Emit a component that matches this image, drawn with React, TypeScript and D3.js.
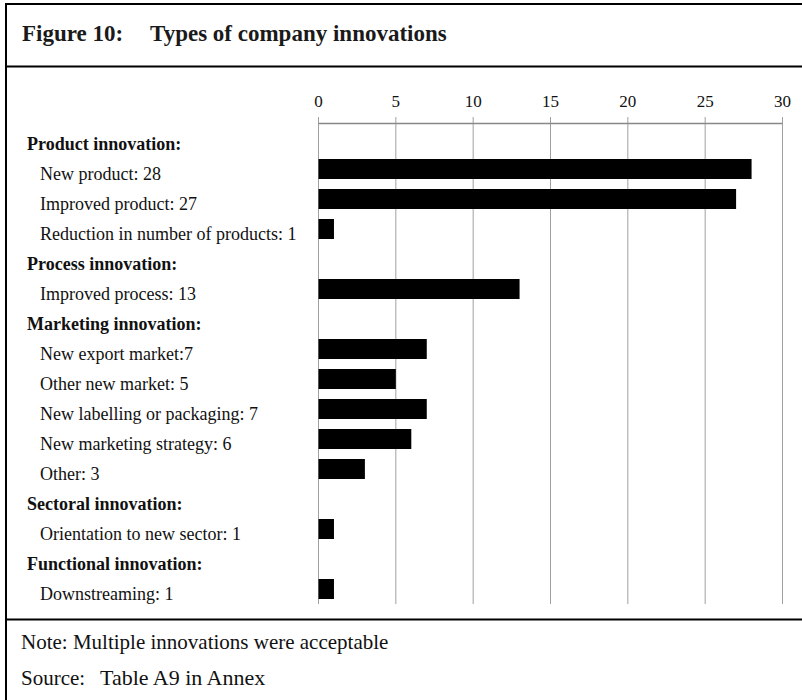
import React, { useEffect, useRef } from 'react';
import * as d3 from 'd3';

// group headings and their items (group index per item)
const groupLabels = [
  'Product innovation:',
  'Process innovation:',
  'Marketing innovation:',
  'Sectoral innovation:',
  'Functional innovation:',
];

const itemLabels = [
  'New product: 28',
  'Improved product: 27',
  'Reduction in number of products: 1',
  'Improved process: 13',
  'New export market:7',
  'Other new market: 5',
  'New labelling or packaging: 7',
  'New marketing strategy: 6',
  'Other: 3',
  'Orientation to new sector: 1',
  'Downstreaming: 1',
];
const itemValues = [28, 27, 1, 13, 7, 5, 7, 6, 3, 1, 1];
const itemGroup = [0, 0, 0, 1, 2, 2, 2, 2, 2, 3, 4];

const tickValues = [0, 5, 10, 15, 20, 25, 30];

const W = 802;
const H = 700;
const FONT = '"Liberation Serif", "Times New Roman", serif';

const App = () => {
  const svgRef = useRef<SVGSVGElement>(null);

  useEffect(() => {
    const svg = d3.select(svgRef.current);
    svg.selectAll('*').remove();

    // build rows: heading row, then its items
    const rows: { label: string; value: number | null; header: boolean }[] = [];
    groupLabels.forEach((g, gi) => {
      rows.push({ label: g, value: null, header: true });
      itemLabels.forEach((l, i) => {
        if (itemGroup[i] === gi) rows.push({ label: l, value: itemValues[i], header: false });
      });
    });

    const x = d3.scaleLinear().domain([0, 30]).range([318.5, 782.5]);
    const y = d3.scaleBand<number>()
      .domain(rows.map((_, i) => i))
      .range([124, 604])
      .paddingInner(1 / 3)
      .paddingOuter(1 / 6);

    // frame
    svg.append('rect').attr('width', W).attr('height', H).attr('fill', '#fff');
    const frame = svg.append('g').attr('stroke', '#000').attr('stroke-width', 2);
    frame.append('line').attr('x1', 6).attr('x2', W).attr('y1', 4).attr('y2', 4);
    frame.append('line').attr('x1', 6).attr('x2', 6).attr('y1', 3).attr('y2', H);
    frame.append('line').attr('x1', 6).attr('x2', W).attr('y1', 66.5).attr('y2', 66.5);
    frame.append('line').attr('x1', 6).attr('x2', W).attr('y1', 619.5).attr('y2', 619.5);

    // title
    const title = svg.append('g')
      .style('font-family', FONT)
      .style('font-weight', 'bold')
      .style('font-size', '23px')
      .attr('fill', '#1a1a1a');
    title.append('text').attr('x', 22).attr('y', 41).text('Figure 10:');
    title.append('text').attr('x', 150).attr('y', 41).text('Types of company innovations');

    // gridlines
    svg.append('g')
      .selectAll('line')
      .data(tickValues)
      .enter()
      .append('line')
      .attr('x1', d => x(d))
      .attr('x2', d => x(d))
      .attr('y1', 117)
      .attr('y2', 604)
      .attr('stroke', '#a0a0a0')
      .attr('stroke-width', 1);

    // axis line
    svg.append('line')
      .attr('x1', x(0))
      .attr('x2', x(30))
      .attr('y1', 123.5)
      .attr('y2', 123.5)
      .attr('stroke', '#888')
      .attr('stroke-width', 1.5);

    // tick labels
    svg.append('g')
      .selectAll('text')
      .data(tickValues)
      .enter()
      .append('text')
      .attr('x', d => x(d))
      .attr('y', 107)
      .attr('text-anchor', 'middle')
      .style('font-family', FONT)
      .style('font-size', '17px')
      .attr('fill', '#111')
      .text(d => d);

    // bars
    svg.append('g')
      .selectAll('rect')
      .data(rows.map((r, i) => ({ ...r, i })).filter(r => !r.header))
      .enter()
      .append('rect')
      .attr('x', x(0))
      .attr('y', d => y(d.i)!)
      .attr('width', d => x(d.value as number) - x(0))
      .attr('height', y.bandwidth())
      .attr('fill', '#000');

    // row labels
    svg.append('g')
      .selectAll('text')
      .data(rows)
      .enter()
      .append('text')
      .attr('x', d => (d.header ? 27 : 40))
      .attr('y', (_, i) => y(i)! + y.bandwidth() / 2 + 11)
      .style('font-family', FONT)
      .style('font-size', '18px')
      .style('font-weight', d => (d.header ? 'bold' : 'normal'))
      .attr('fill', '#111')
      .text(d => d.label);

    // notes
    const notes = svg.append('g')
      .style('font-family', FONT)
      .attr('fill', '#111');
    notes.append('text').attr('x', 21).attr('y', 649).style('font-size', '21px')
      .text('Note: Multiple innovations were acceptable');
    notes.append('text').attr('x', 21).attr('y', 685).style('font-size', '21px').text('Source:');
    notes.append('text').attr('x', 100).attr('y', 685).style('font-size', '22px')
      .text('Table A9 in Annex');
  }, []);

  return (
    <svg
      ref={svgRef}
      width={W}
      height={H}
      style={{ position: 'absolute', left: 0, top: 0 }}
    />
  );
};

export default App;
